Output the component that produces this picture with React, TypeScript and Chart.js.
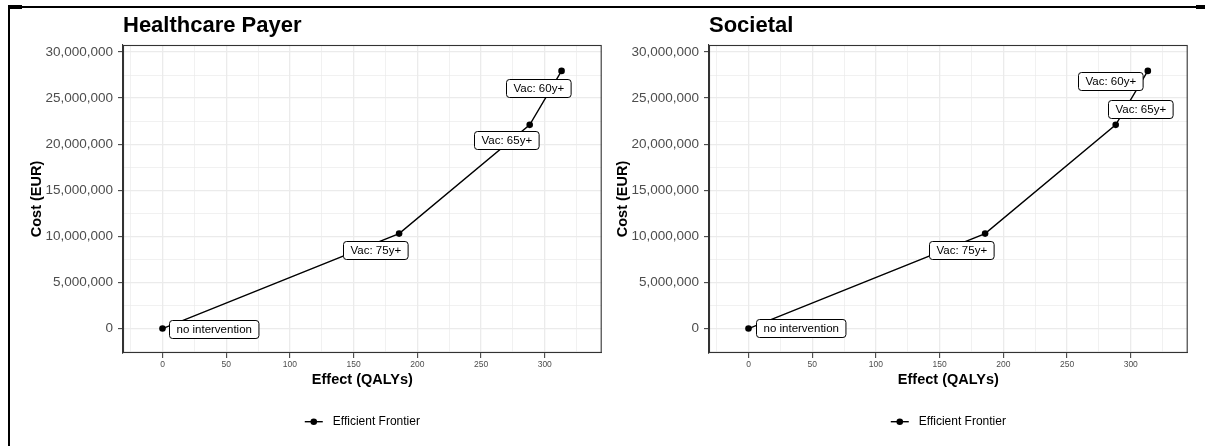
import React, { useEffect, useRef } from 'react';
import { Chart, registerables } from 'chart.js';

Chart.register(...registerables);

// ---------- data ----------
const panelTitles = ['Healthcare Payer', 'Societal'];
const seriesName = 'Efficient Frontier';
const xAxisTitle = 'Effect (QALYs)';
const yAxisTitle = 'Cost (EUR)';
const pointLabels = ['no intervention', 'Vac: 75y+', 'Vac: 65y+', 'Vac: 60y+'];

const payerEffects = [0, 185.7, 288.2, 313.2];
const payerCosts = [0, 10300000, 22100000, 27950000];
const societalEffects = [0, 185.7, 288.2, 313.4];
const societalCosts = [0, 10300000, 22100000, 27950000];

const xTickValues = [0, 50, 100, 150, 200, 250, 300];
const yTickValues = [0, 5000000, 10000000, 15000000, 20000000, 25000000, 30000000];

// ---------- layout / style ----------
const X_MIN = -31;
const X_MAX = 344.7;
const Y_MIN = -2650000;
const Y_MAX = 30760000;
const FONT = "'Liberation Sans', Arial, Helvetica, sans-serif";
const CANVAS_W = 605;
const CANVAS_H = 446;

// box offsets (left, top) of each label relative to its point, in px
const payerLabelOffsets = [[6.7, -9], [-56, 7], [-56, 6.3], [-55.3, 7.6]];
const societalLabelOffsets = [[7.4, -9.7], [-56, 7], [-7.4, -25], [-70, 1]];

function minorAndMajor(major: number[], lo: number, hi: number): number[] {
  const step = (major[1] - major[0]) / 2;
  const out: number[] = [];
  const start = major[0] - step * Math.ceil((major[0] - lo) / step);
  for (let v = start; v <= hi + 1e-9; v += step) {
    if (v >= lo) out.push(Math.round(v * 1000) / 1000);
  }
  return out;
}

const panelPlugin = {
  id: 'panelDecor',
  beforeDatasetsDraw(chart: any) {
    const { ctx, chartArea } = chart;
    ctx.save();
    ctx.strokeStyle = '#333333';
    ctx.lineWidth = 1.1;
    ctx.strokeRect(chartArea.left + 0.5, chartArea.top + 0.5, chartArea.right - chartArea.left - 1, chartArea.bottom - chartArea.top - 1);
    ctx.restore();
  },
  afterDatasetsDraw(chart: any) {
    const { ctx, chartArea } = chart;
    const opts = chart.options.plugins.panelDecor;
    const meta = chart.getDatasetMeta(0);
    ctx.save();
    // point labels
    ctx.font = `11.5px ${FONT}`;
    ctx.textBaseline = 'middle';
    ctx.textAlign = 'left';
    meta.data.forEach((el: any, i: number) => {
      const text = opts.labels[i];
      const off = opts.offsets[i];
      const w = ctx.measureText(text).width + 14;
      const h = 18;
      const bx = Math.round(el.x + off[0]) + 0.5;
      const by = Math.round(el.y + off[1]) + 0.5;
      ctx.beginPath();
      if (ctx.roundRect) ctx.roundRect(bx, by, w, h, 3);
      else ctx.rect(bx, by, w, h);
      ctx.fillStyle = '#ffffff';
      ctx.fill();
      ctx.strokeStyle = '#000000';
      ctx.lineWidth = 1;
      ctx.stroke();
      ctx.fillStyle = '#000000';
      ctx.fillText(text, bx + 7, by + h / 2 + 0.5);
    });
    ctx.restore();
  },
  afterDraw(chart: any) {
    const { ctx, chartArea } = chart;
    const opts = chart.options.plugins.panelDecor;
    ctx.save();
    // panel title
    ctx.font = `bold 22px ${FONT}`;
    ctx.fillStyle = '#000000';
    ctx.textAlign = 'left';
    ctx.textBaseline = 'alphabetic';
    ctx.fillText(opts.title, chartArea.left, 31.5);
    // legend
    ctx.font = `12px ${FONT}`;
    const tw = ctx.measureText(opts.legend).width;
    const total = 18 + 10 + tw;
    const cx = (chartArea.left + chartArea.right) / 2;
    const sx = cx - total / 2;
    const ly = 421.7;
    ctx.strokeStyle = '#000000';
    ctx.lineWidth = 1.4;
    ctx.beginPath();
    ctx.moveTo(sx, ly);
    ctx.lineTo(sx + 18, ly);
    ctx.stroke();
    ctx.beginPath();
    ctx.arc(sx + 9, ly, 3.3, 0, Math.PI * 2);
    ctx.fillStyle = '#000000';
    ctx.fill();
    ctx.textBaseline = 'middle';
    ctx.fillText(opts.legend, sx + 28, ly);
    ctx.restore();
  },
};

type PanelProps = {
  left: number;
  title: string;
  effects: number[];
  costs: number[];
  offsets: number[][];
  padRight: number;
};

function Panel({ left, title, effects, costs, offsets, padRight }: PanelProps) {
  const ref = useRef<HTMLCanvasElement | null>(null);
  useEffect(() => {
    if (!ref.current) return;
    const points = effects.map((x, i) => ({ x, y: costs[i] }));
    const gridColor = (c: any) => '#ebebeb';
    const chart = new Chart(ref.current, {
      type: 'scatter',
      data: {
        datasets: [
          {
            label: seriesName,
            data: points,
            showLine: true,
            borderColor: '#000000',
            backgroundColor: '#000000',
            borderWidth: 1.4,
            pointRadius: 3.3,
            pointHoverRadius: 3.3,
            pointBorderWidth: 0,
            tension: 0,
          },
        ],
      },
      options: {
        animation: false,
        responsive: false,
        events: [],
        layout: { padding: { left: 0, top: 45, right: padRight, bottom: 53 } },
        plugins: {
          legend: { display: false },
          tooltip: { enabled: false },
          title: { display: false },
          panelDecor: { title, labels: pointLabels, offsets, legend: seriesName },
        } as any,
        scales: {
          x: {
            type: 'linear',
            position: 'bottom',
            min: X_MIN,
            max: X_MAX,
            afterBuildTicks: (scale: any) => {
              scale.ticks = minorAndMajor(xTickValues, X_MIN, X_MAX).map((v) => ({ value: v }));
            },
            afterFit: (scale: any) => {
              scale.height = 40;
            },
            ticks: {
              autoSkip: false,
              maxRotation: 0,
              padding: 2,
              color: '#4d4d4d',
              font: { size: 8.5, family: FONT },
              callback: (v: any) => (xTickValues.includes(Number(v)) ? String(v) : ''),
            },
            grid: {
              color: gridColor,
              lineWidth: (c: any) => (xTickValues.includes(c.tick?.value) ? 1.3 : 0.7),
              tickLength: 5,
              tickColor: (c: any) => (xTickValues.includes(c.tick?.value) ? '#333333' : 'rgba(0,0,0,0)'),
              tickWidth: 1,
            },
            border: { display: true, color: '#333333', width: 1.1 },
            title: {
              display: true,
              text: xAxisTitle,
              color: '#000000',
              font: { size: 14.5, weight: 'bold', family: FONT },
              padding: { top: 0, bottom: 4.3 },
            },
          },
          y: {
            type: 'linear',
            position: 'left',
            min: Y_MIN,
            max: Y_MAX,
            afterBuildTicks: (scale: any) => {
              scale.ticks = minorAndMajor(yTickValues, Y_MIN, Y_MAX).map((v) => ({ value: v }));
            },
            afterFit: (scale: any) => {
              scale.width = 123;
            },
            ticks: {
              autoSkip: false,
              padding: 5,
              color: '#4d4d4d',
              font: { size: 13.5, family: FONT },
              callback: (v: any) => (yTickValues.includes(Number(v)) ? Number(v).toLocaleString('en-US') : ''),
            },
            grid: {
              color: gridColor,
              lineWidth: (c: any) => (yTickValues.includes(c.tick?.value) ? 1.3 : 0.7),
              tickLength: 5,
              tickColor: (c: any) => (yTickValues.includes(c.tick?.value) ? '#333333' : 'rgba(0,0,0,0)'),
              tickWidth: 1,
            },
            border: { display: true, color: '#333333', width: 1.1 },
            title: {
              display: true,
              text: yAxisTitle,
              color: '#000000',
              font: { size: 14.5, weight: 'bold', family: FONT },
              padding: { top: 28, bottom: 0 },
            },
          },
        },
      },
      plugins: [panelPlugin],
    } as any);
    return () => chart.destroy();
  }, []);
  return (
    <canvas
      ref={ref}
      width={CANVAS_W}
      height={CANVAS_H}
      style={{ position: 'absolute', left, top: 0, width: CANVAS_W, height: CANVAS_H, display: 'block' }}
    />
  );
}

export default function App() {
  const line = (l: number, t: number, w: number, h: number) => (
    <div style={{ position: 'absolute', left: l, top: t, width: w, height: h, background: '#000000', zIndex: 2 }} />
  );
  return (
    <div style={{ position: 'absolute', left: 0, top: 0, width: 1205, height: 446, background: '#ffffff', overflow: 'hidden' }}>
      <Panel left={0} title={panelTitles[0]} effects={payerEffects} costs={payerCosts} offsets={payerLabelOffsets} padRight={3} />
      <Panel left={586} title={panelTitles[1]} effects={societalEffects} costs={societalCosts} offsets={societalLabelOffsets} padRight={2} />
      {line(8, 6, 1189, 2)}
      {line(8, 6, 2, 440)}
      {line(8, 5, 14, 4)}
      {line(1196, 5, 9, 4)}
    </div>
  );
}
